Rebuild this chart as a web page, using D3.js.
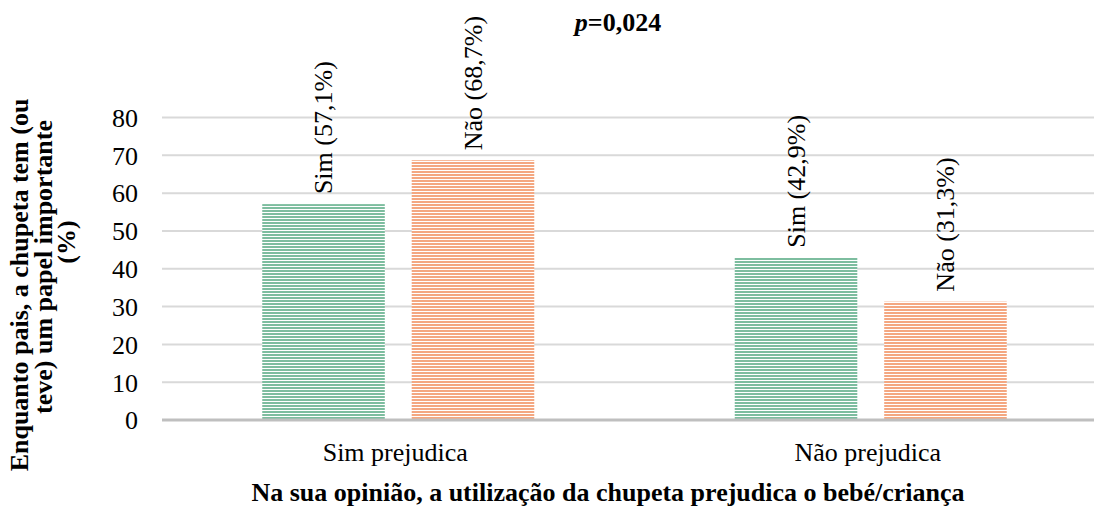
<!DOCTYPE html>
<html>
<head>
<meta charset="utf-8">
<script src="https://cdn.jsdelivr.net/npm/d3@7"></script>
</head>
<body style="margin:0">
<svg id="fig" width="1094" height="506"></svg>
<script>
const categories = ["Sim prejudica", "Não prejudica"];
const seriesNames = ["Sim", "Não"];
const simValues = [57.1, 42.9];
const naoValues = [68.7, 31.3];
const yTicks = [0, 10, 20, 30, 40, 50, 60, 70, 80];
const pLabel = "0,024";
const xTitle = "Na sua opinião, a utilização da chupeta prejudica o bebé/criança";
const yTitleLines = ["Enquanto pais, a chupeta tem (ou", "teve) um papel importante", "(%)"];

const colors = { "Sim": "#7dbd9f", "Não": "#f4a781" };
const FONT = "'Liberation Serif'";

const svg = d3.select("#fig");
const defs = svg.append("defs");
seriesNames.forEach((s, i) => {
  const p = defs.append("pattern").attr("id", "pat" + i)
    .attr("patternUnits", "userSpaceOnUse").attr("width", 10).attr("height", 3);
  p.append("rect").attr("width", 10).attr("height", 3).attr("fill", "#ffffff");
  p.append("rect").attr("width", 10).attr("height", 2).attr("fill", colors[s]);
});

function serif(sel, size, bold) {
  sel.style("font-family", FONT, "important")
     .style("font-size", size + "px", "important")
     .style("font-weight", bold ? "bold" : "normal", "important");
  return sel;
}

const plotLeft = 162, plotRight = 1107;
const y = d3.scaleLinear().domain([0, 80]).range([420, 117.5]);
const x0 = d3.scaleBand().domain(categories).range([plotLeft, plotRight]).paddingInner(0).paddingOuter(0);
const groupW = 272;
const x1 = d3.scaleBand().domain(seriesNames).range([0, groupW]).paddingInner(0.18).paddingOuter(0);

// gridlines
svg.append("g").selectAll("line").data(yTicks.filter(t => t > 0)).join("line")
  .attr("x1", plotLeft).attr("x2", 1094)
  .attr("y1", d => y(d)).attr("y2", d => y(d))
  .attr("stroke", "#d9d9d9").attr("stroke-width", 2);

// y tick labels via axis
const yAxis = svg.append("g").attr("transform", `translate(${plotLeft - 24},0)`)
  .call(d3.axisLeft(y).tickValues(yTicks).tickSize(0).tickPadding(0).tickFormat(d3.format("d")));
yAxis.select(".domain").remove();
serif(yAxis.selectAll("text"), 26, false).attr("fill", "#000").attr("dy", "0.34em");

const rows = categories.map((c, i) => ({ cat: c, vals: [
  { s: "Sim", v: simValues[i], idx: 0 },
  { s: "Não", v: naoValues[i], idx: 1 }
]}));

const groups = svg.append("g").selectAll("g").data(rows).join("g")
  .attr("transform", d => `translate(${x0(d.cat) + (x0.bandwidth() - groupW) / 2},0)`);

groups.selectAll("rect").data(d => d.vals).join("rect")
  .attr("x", d => x1(d.s))
  .attr("width", x1.bandwidth())
  .attr("y", d => y(d.v))
  .attr("height", d => y(0) - y(d.v))
  .attr("fill", d => `url(#pat${d.idx})`);

serif(groups.selectAll("text").data(d => d.vals).join("text"), 26, false)
  .attr("transform", d => `translate(${x1(d.s) + x1.bandwidth() / 2},${y(d.v) - 10}) rotate(-90)`)
  .attr("dy", "0.34em")
  .attr("fill", "#000")
  .text(d => `${d.s} (${d3.format(".1f")(d.v).replace(".", ",")}%)`);

// baseline
svg.append("line").attr("x1", plotLeft).attr("x2", 1094)
  .attr("y1", y(0)).attr("y2", y(0))
  .attr("stroke", "#bfbfbf").attr("stroke-width", 3);

// category labels
serif(svg.append("g").selectAll("text").data(categories).join("text"), 26, false)
  .attr("x", d => x0(d) + x0.bandwidth() / 2 - 3)
  .attr("y", 461)
  .attr("text-anchor", "middle")
  .attr("fill", "#000")
  .text(d => d);

// x title
serif(svg.append("text"), 26, true).attr("x", 608).attr("y", 501)
  .attr("text-anchor", "middle").attr("fill", "#000").text(xTitle);

// p label
const pt = serif(svg.append("text"), 26, true).attr("x", 618).attr("y", 31)
  .attr("text-anchor", "middle").attr("fill", "#000");
pt.append("tspan").style("font-style", "italic", "important").text("p");
pt.append("tspan").text("=" + pLabel);

// y title
const yLineShift = [-13, 5, 30];
const yt = serif(svg.append("text"), 26, true)
  .attr("transform", "translate(28,272) rotate(-90)")
  .attr("text-anchor", "middle").attr("fill", "#000");
yTitleLines.forEach((l, i) => {
  yt.append("tspan").attr("x", yLineShift[i]).attr("dy", i === 0 ? 0 : 23.5).text(l);
});
</script>
</body>
</html>
